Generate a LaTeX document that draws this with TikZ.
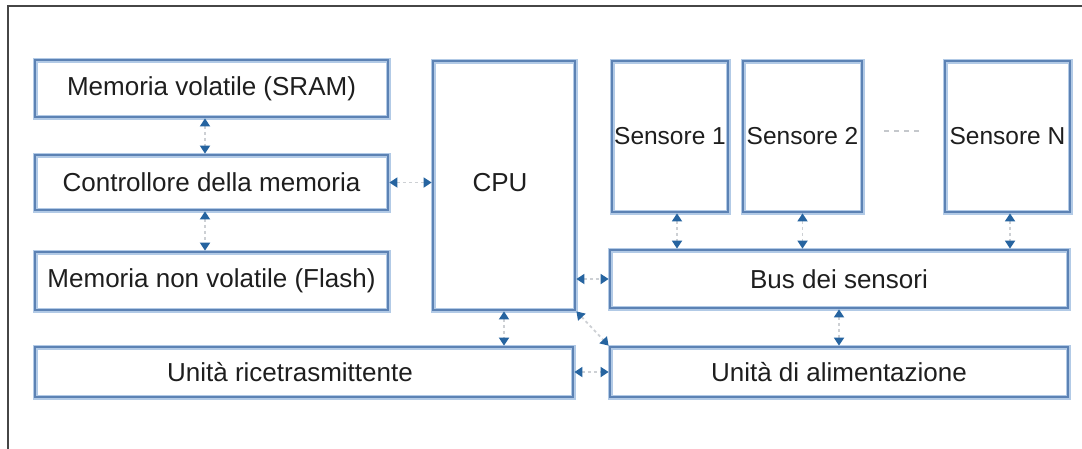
\documentclass[tikz,border=0pt]{standalone}
\usepackage{fontspec}
\setmainfont{Liberation Sans}
\usetikzlibrary{arrows.meta,calc}

\definecolor{boxblue}{RGB}{92,130,180}
\definecolor{boxhalo}{RGB}{178,202,230}
\definecolor{tipblue}{RGB}{38,100,160}
\definecolor{linkgray}{RGB}{205,208,212}
\definecolor{textgray}{RGB}{30,30,30}
\definecolor{framegray}{RGB}{70,70,70}

\tikzset{
  box/.style={draw=boxblue, line width=2.8pt, rectangle, inner sep=0pt,
    preaction={draw=boxhalo, line width=5pt},
    font=\fontsize{26}{30}\selectfont, text=textgray},
  sensor/.style={box, font=\fontsize{24.5}{30}\selectfont},
  label/.style={inner sep=0pt, font=\fontsize{26}{30}\selectfont, text=textgray},
  link/.style={draw=linkgray, line width=1.8pt, dash pattern=on 3pt off 3pt,
    {Triangle[width=10pt,length=8pt,color=tipblue]}-{Triangle[width=10pt,length=8pt,color=tipblue]}},
  dots/.style={draw=linkgray!90!gray, line width=2pt, dash pattern=on 5pt off 5pt},
  frame/.style={draw=framegray, line width=1.6pt}
}

\begin{document}
\begin{tikzpicture}[x=1pt,y=-1pt]
\useasboundingbox (0,0) rectangle (1082,448);
\fill[white] (0,0) rectangle (1082,448);

% outer frame (open towards the right and bottom edges)
\draw[frame] (8,460) -- (8,6) -- (1095,6);

% memory column
\node[box, minimum width=353pt, minimum height=57pt] (sram)  at (211.5,88.5) {Memoria volatile (SRAM)};
\node[box, minimum width=353pt, minimum height=55pt] (ctrl)  at (211.5,182.5) {Controllore della memoria};
\node[box, minimum width=353pt, minimum height=58pt] (flash) at (211.5,281) {Memoria non volatile (Flash)};

% processor and radio
\node[box, minimum width=142pt, minimum height=249pt] (cpu) at (504,185.5) {};
\node[label] (cputxt) at (500,183) {CPU};
\node[box, minimum width=538pt, minimum height=50pt] (radio) at (304,372) {};
\node[label] (radiotxt) at (290,372) {Unità ricetrasmittente};

% sensors
\node[sensor, minimum width=116pt, minimum height=151pt] (s1) at (670,136.5) {Sensore 1};
\node[sensor, minimum width=119pt, minimum height=151pt] (s2) at (802.5,136.5) {Sensore 2};
\node[sensor, minimum width=125pt, minimum height=151pt] (sN) at (1007.5,136.5) {Sensore N};
\draw[dots] ([xshift=21pt,yshift=5.5pt]s2.east) -- ([xshift=-22pt,yshift=5.5pt]sN.west);

% bus and power
\node[box, minimum width=458pt, minimum height=58pt] (bus)   at (839,279) {Bus dei sensori};
\node[box, minimum width=458pt, minimum height=50pt] (power) at (839,372) {Unità di alimentazione};

% connections
\draw[link] ([xshift=-6.5pt]sram.south) -- ([xshift=-6.5pt]sram.south |- ctrl.north);
\draw[link] ([xshift=-6.5pt]ctrl.south) -- ([xshift=-6.5pt]ctrl.south |- flash.north);
\draw[link] (ctrl.east) -- (ctrl.east -| cpu.west);
\draw[link] (cpu.south) -- (cpu.south |- radio.north);
\draw[link] (bus.west -| cpu.east) -- (bus.west);
\draw[link] (cpu.south east) -- (power.north west);
\draw[link] (power.west -| radio.east) -- (power.west);
\draw[link] (bus.south) -- (power.north);
\draw[link] ([xshift=7pt]s1.south) -- ([xshift=7pt]s1.south |- bus.north);
\draw[link] (s2.south) -- (s2.south |- bus.north);
\draw[link] ([xshift=2.5pt]sN.south) -- ([xshift=2.5pt]sN.south |- bus.north);
\end{tikzpicture}
\end{document}
